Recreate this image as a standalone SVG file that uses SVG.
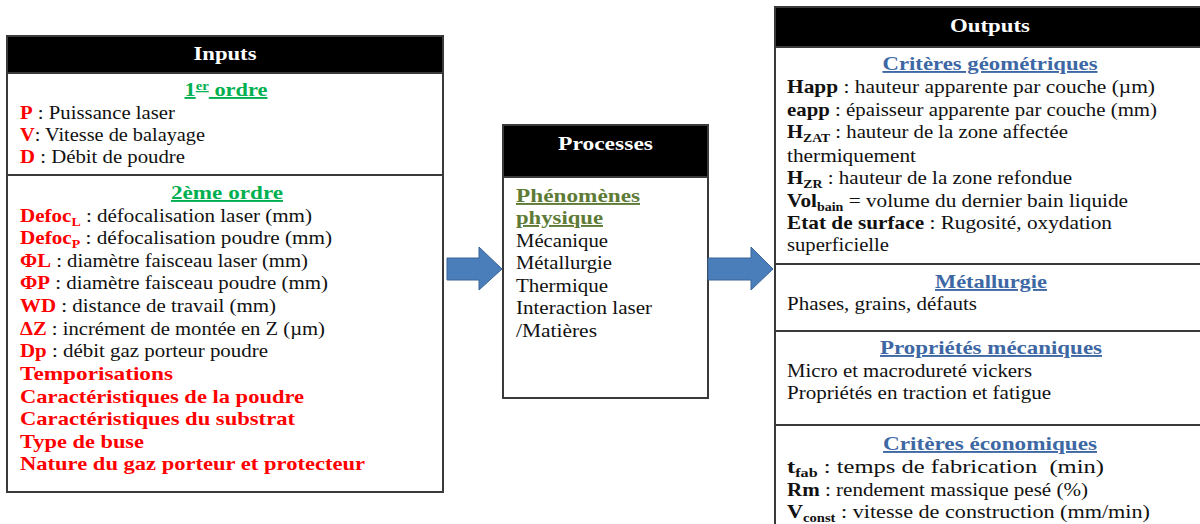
<svg xmlns="http://www.w3.org/2000/svg" width="1200" height="524" viewBox="0 0 1200 524" font-family="Liberation Serif, Times New Roman, serif" font-size="19">
<style>
  .box{fill:#fff;stroke:#3a3a3a;stroke-width:2}
  .hdr{fill:#000;stroke:#3a3a3a;stroke-width:2}
  .div{stroke:#3a3a3a;stroke-width:2}
  text{fill:#111}
  .h{fill:#fff;font-weight:bold;text-anchor:middle}
  .r{fill:#ff0000;font-weight:bold}
  .b{font-weight:bold}
  .g{fill:#00b050;font-weight:bold;text-anchor:middle;text-decoration:underline}
  .o{fill:#5e7b36;font-weight:bold;text-decoration:underline}
  .u{fill:#3d68a4;font-weight:bold;text-anchor:middle;text-decoration:underline}
  .s{font-size:12.5px}
  .arrow{fill:#4a7ebb;stroke:#3a6396;stroke-width:1}
</style>
<rect width="1200" height="524" fill="#fff"/>

<g id="inputs">
  <rect class="box" x="7" y="36" width="436" height="456"/>
  <rect class="hdr" x="7" y="36" width="436" height="37"/>
  <text class="h" x="225" y="60" textLength="63" lengthAdjust="spacingAndGlyphs">Inputs</text>
  <text class="g" x="226" y="96" textLength="83" lengthAdjust="spacingAndGlyphs">1<tspan class="s" dy="-6">er</tspan><tspan dy="6"> ordre</tspan></text>
  <text x="20" y="119" textLength="155" lengthAdjust="spacingAndGlyphs"><tspan class="r">P</tspan> : Puissance laser</text>
  <text x="20" y="141" textLength="185" lengthAdjust="spacingAndGlyphs"><tspan class="r">V</tspan>: Vitesse de balayage</text>
  <text x="20" y="163" textLength="165" lengthAdjust="spacingAndGlyphs"><tspan class="r">D</tspan> : Débit de poudre</text>
  <line class="div" x1="7" y1="175" x2="443" y2="175"/>
  <text class="g" x="227" y="199" textLength="112" lengthAdjust="spacingAndGlyphs">2ème ordre</text>
  <text x="20" y="222" textLength="292" lengthAdjust="spacingAndGlyphs"><tspan class="r">Defoc</tspan><tspan class="r s" dy="4">L</tspan><tspan dy="-4"> : défocalisation laser (mm)</tspan></text>
  <text x="20" y="244" textLength="312" lengthAdjust="spacingAndGlyphs"><tspan class="r">Defoc</tspan><tspan class="r s" dy="4">P</tspan><tspan dy="-4"> : défocalisation poudre (mm)</tspan></text>
  <text x="20" y="267" textLength="288" lengthAdjust="spacingAndGlyphs"><tspan class="r">ΦL</tspan> : diamètre faisceau laser (mm)</text>
  <text x="20" y="289" textLength="308" lengthAdjust="spacingAndGlyphs"><tspan class="r">ΦP</tspan> : diamètre faisceau poudre (mm)</text>
  <text x="20" y="312" textLength="256" lengthAdjust="spacingAndGlyphs"><tspan class="r">WD</tspan> : distance de travail (mm)</text>
  <text x="20" y="335" textLength="305" lengthAdjust="spacingAndGlyphs"><tspan class="r">ΔZ</tspan> : incrément de montée en Z (µm)</text>
  <text x="20" y="357" textLength="248" lengthAdjust="spacingAndGlyphs"><tspan class="r">Dp</tspan> : débit gaz porteur poudre</text>
  <text class="r" x="20" y="380" textLength="153" lengthAdjust="spacingAndGlyphs">Temporisations</text>
  <text class="r" x="20" y="403" textLength="284" lengthAdjust="spacingAndGlyphs">Caractéristiques de la poudre</text>
  <text class="r" x="20" y="425" textLength="275" lengthAdjust="spacingAndGlyphs">Caractéristiques du substrat</text>
  <text class="r" x="20" y="448" textLength="124" lengthAdjust="spacingAndGlyphs">Type de buse</text>
  <text class="r" x="20" y="470" textLength="345" lengthAdjust="spacingAndGlyphs">Nature du gaz porteur et protecteur</text>
</g>

<g id="processes">
  <rect class="box" x="503" y="125" width="205" height="273"/>
  <rect class="hdr" x="503" y="125" width="205" height="52"/>
  <text class="h" x="605.5" y="150" textLength="95" lengthAdjust="spacingAndGlyphs">Processes</text>
  <text class="o" x="516" y="202" textLength="124" lengthAdjust="spacingAndGlyphs">Phénomènes</text>
  <text class="o" x="516" y="224" textLength="87" lengthAdjust="spacingAndGlyphs">physique</text>
  <text x="516" y="247" textLength="92" lengthAdjust="spacingAndGlyphs">Mécanique</text>
  <text x="516" y="269" textLength="96" lengthAdjust="spacingAndGlyphs">Métallurgie</text>
  <text x="516" y="292" textLength="92" lengthAdjust="spacingAndGlyphs">Thermique</text>
  <text x="516" y="314" textLength="136" lengthAdjust="spacingAndGlyphs">Interaction laser</text>
  <text x="516" y="337" textLength="81" lengthAdjust="spacingAndGlyphs">/Matières</text>
</g>

<g id="outputs">
  <rect class="box" x="775" y="7" width="440" height="530"/>
  <rect class="hdr" x="775" y="7" width="440" height="40"/>
  <text class="h" x="990" y="32" textLength="80" lengthAdjust="spacingAndGlyphs">Outputs</text>
  <text class="u" x="990" y="70" textLength="215" lengthAdjust="spacingAndGlyphs">Critères géométriques</text>
  <text x="787" y="93" textLength="368" lengthAdjust="spacingAndGlyphs"><tspan class="b">Happ</tspan> : hauteur apparente par couche (µm)</text>
  <text x="787" y="116" textLength="370" lengthAdjust="spacingAndGlyphs"><tspan class="b">eapp</tspan> : épaisseur apparente par couche (mm)</text>
  <text x="787" y="138" textLength="281" lengthAdjust="spacingAndGlyphs"><tspan class="b">H</tspan><tspan class="b s" dy="4">ZAT</tspan><tspan dy="-4"> : hauteur de la zone affectée</tspan></text>
  <text x="787" y="162" textLength="129" lengthAdjust="spacingAndGlyphs">thermiquement</text>
  <text x="787" y="184" textLength="285" lengthAdjust="spacingAndGlyphs"><tspan class="b">H</tspan><tspan class="b s" dy="4">ZR</tspan><tspan dy="-4"> : hauteur de la zone refondue</tspan></text>
  <text x="787" y="207" textLength="341" lengthAdjust="spacingAndGlyphs"><tspan class="b">Vol</tspan><tspan class="b s" dy="4">bain</tspan><tspan dy="-4"> = volume du dernier bain liquide</tspan></text>
  <text x="787" y="229" textLength="325" lengthAdjust="spacingAndGlyphs"><tspan class="b">Etat de surface</tspan> : Rugosité, oxydation</text>
  <text x="787" y="251" textLength="102" lengthAdjust="spacingAndGlyphs">superficielle</text>
  <line class="div" x1="775" y1="264" x2="1200" y2="264"/>
  <text class="u" x="991" y="288" textLength="112" lengthAdjust="spacingAndGlyphs">Métallurgie</text>
  <text x="787" y="310" textLength="190" lengthAdjust="spacingAndGlyphs">Phases, grains, défauts</text>
  <line class="div" x1="775" y1="331" x2="1200" y2="331"/>
  <text class="u" x="991" y="354" textLength="222" lengthAdjust="spacingAndGlyphs">Propriétés mécaniques</text>
  <text x="787" y="377" textLength="245" lengthAdjust="spacingAndGlyphs">Micro et macrodureté vickers</text>
  <text x="787" y="399" textLength="264" lengthAdjust="spacingAndGlyphs">Propriétés en traction et fatigue</text>
  <line class="div" x1="775" y1="425" x2="1200" y2="425"/>
  <text class="u" x="990" y="450" textLength="214" lengthAdjust="spacingAndGlyphs">Critères économiques</text>
  <text x="787" y="473" textLength="317" lengthAdjust="spacingAndGlyphs" xml:space="preserve"><tspan class="b">t</tspan><tspan class="b s" dy="4">fab</tspan><tspan dy="-4"> : temps de fabrication  (min)</tspan></text>
  <text x="787" y="496" textLength="301" lengthAdjust="spacingAndGlyphs"><tspan class="b">Rm</tspan> : rendement massique pesé (%)</text>
  <text x="787" y="518" textLength="363" lengthAdjust="spacingAndGlyphs"><tspan class="b">V</tspan><tspan class="b s" dy="4">const</tspan><tspan dy="-4"> : vitesse de construction (mm/min)</tspan></text>
</g>

<g id="connectors">
  <polygon class="arrow" points="447,258 479,258 479,247 502,269 479,290 479,280 447,280"/>
  <polygon class="arrow" points="708,258 751,258 751,247 773,269 751,290 751,280 708,280"/>
</g>
</svg>
